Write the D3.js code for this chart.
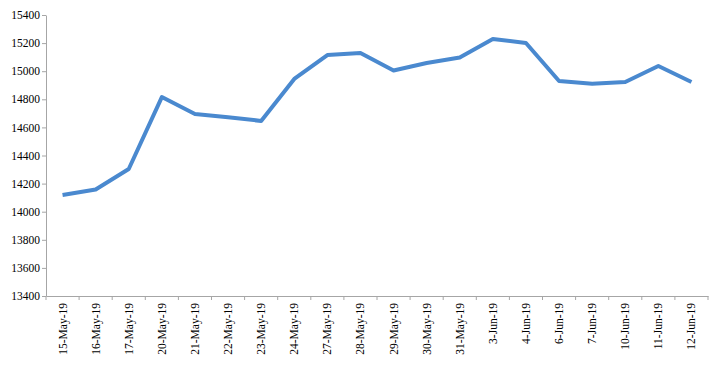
<!DOCTYPE html>
<html><head><meta charset="utf-8">
<script src="https://cdn.jsdelivr.net/npm/d3@7"></script>
<style>body{margin:0;background:#fff}svg{display:block}</style>
</head><body>
<svg id="c" width="722" height="366"></svg>
<script>
const categories = ["15-May-19","16-May-19","17-May-19","20-May-19","21-May-19","22-May-19","23-May-19","24-May-19","27-May-19","28-May-19","29-May-19","30-May-19","31-May-19","3-Jun-19","4-Jun-19","6-Jun-19","7-Jun-19","10-Jun-19","11-Jun-19","12-Jun-19"];
const values = [14119,14158,14304,14816,14695,14673,14646,14945,15115,15130,15005,15058,15098,15229,15201,14930,14910,14923,15037,14923];
const yTicks = [13400,13600,13800,14000,14200,14400,14600,14800,15000,15200,15400];

const svg = d3.select("#c");
const m = {left:46, right:14, top:15, bottom:70};
const W = 722, H = 366;
const x = d3.scaleBand().domain(categories).range([m.left, 708]);
const y = d3.scaleLinear().domain([13400,15400]).range([296, 15]);
const font = "'Liberation Serif','Times New Roman',serif";
const axisColor = "#a6a6a6";

// y axis
const ya = svg.append("g").attr("transform",`translate(${m.left},0)`)
  .call(d3.axisLeft(y).tickValues(yTicks).tickSize(4).tickSizeOuter(0).tickFormat(d3.format("d")));
ya.select(".domain").attr("stroke",axisColor);
ya.selectAll(".tick line").attr("stroke",axisColor);
ya.selectAll(".tick text").attr("font-family",font).attr("font-size",11.5).attr("fill","#000").attr("x",-6);

// x axis
const xa = svg.append("g").attr("transform",`translate(0,296)`)
  .call(d3.axisBottom(x).tickSize(0).tickSizeOuter(0));
xa.select(".domain").attr("stroke",axisColor);
xa.selectAll(".tick text").attr("font-family",font).attr("font-size",11.5).attr("fill","#000")
  .attr("transform","rotate(-90)").attr("text-anchor","end").attr("x",-7).attr("y",0).attr("dy","0.35em");
// boundary ticks
const bounds = categories.map(c=>x(c)).concat([x.range()[1]]);
svg.append("g").selectAll("line").data(bounds).join("line")
  .attr("x1",d=>d).attr("x2",d=>d).attr("y1",296).attr("y2",300).attr("stroke",axisColor);

// line
const line = d3.line().x((d,i)=>x(categories[i])+x.bandwidth()/2).y(d=>y(d));
svg.append("path").datum(values).attr("d",line).attr("fill","none")
  .attr("stroke","#4a89cf").attr("stroke-width",4).attr("stroke-linejoin","round");
</script>
</body></html>
